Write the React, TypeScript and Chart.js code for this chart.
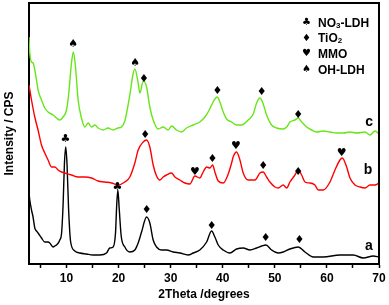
import React, { useEffect, useRef } from 'react';
import { Chart, registerables } from 'chart.js';

Chart.register(...registerables);

// Curve a (black)
const curveA_2theta = [2.8,2.95,3.28,3.58,3.91,4.24,4.54,5.2,5.83,6.46,6.79,7.43,7.75,8.08,8.42,8.71,9.04,9.35,9.6,9.85,10.1,10.4,10.8,11.6,12.56,13.84,15.05,16.4,17.68,18.32,18.95,19.41,19.65,19.86,20.1,20.5,21.2,22.16,23.12,23.76,24.41,25.37,26.0,26.64,27.29,28.25,29.21,30.48,31.77,33.36,34.32,35.6,36.9,37.86,38.49,39.13,40.09,41.37,42.66,43.93,45.22,46.5,47.46,48.29,49.38,50.65,51.61,52.9,54.5,55.78,57.38,59.3,62.5,65.06,66.98,68.9,70.0];
const curveA_cps = [71,64,54,47,36,33,31,26,22,22,21,17,18,19,21,24,30,60,100,117,100,55,22,13,11,10,9,9,11,16,17,31,60,74,57,28,17,12,14,21,32,47,41,24,17,14,14,12,11,9,11,14,22,33,27,19,14,11,15,16,14,16,18,19,14,11,12,15,17,12,7,7,9,9,6,8,7];

// Curve b (red)
const curveB_2theta = [2.8,3.28,3.91,4.54,5.2,5.83,6.46,7.12,7.75,8.39,9.04,9.67,10.96,12.23,13.52,14.8,16.07,17.36,18.65,19.91,21.2,22.16,23.12,23.76,24.72,25.37,26.0,26.64,27.29,27.92,28.56,29.21,30.17,30.81,31.77,32.73,33.69,34.65,35.6,36.24,36.9,37.53,38.05,38.49,39.13,40.09,41.05,41.7,42.0,42.66,43.3,43.93,44.89,46.18,47.14,47.77,48.42,49.06,50.02,50.65,51.61,52.27,52.9,53.86,54.5,55.15,55.78,56.74,57.7,58.34,59.3,60.59,61.55,62.5,62.95,63.79,64.43,65.39,66.35,67.31,68.27,69.23,70.0];
const curveB_cps = [179,164,147,134,119,111,104,97,97,94,92,91,89,87,87,86,83,82,81,79,82,87,101,114,122,124,117,99,88,84,87,89,91,87,84,81,80,88,86,92,97,96,99,92,83,81,90,101,107,112,104,91,84,84,91,92,87,82,77,76,79,76,82,89,94,89,82,81,79,74,74,82,94,104,106,97,86,79,77,76,79,79,81];

// Curve c (green)
const curveC_2theta = [2.8,2.95,3.28,3.58,4.24,4.54,5.2,5.83,6.46,7.43,8.08,8.71,9.35,10.0,10.44,10.96,11.31,11.73,12.23,12.88,13.52,14.15,14.8,15.44,16.07,17.03,17.99,18.95,19.91,20.57,21.2,22.16,22.74,23.12,23.76,24.08,24.75,25.37,26.0,26.64,27.6,28.56,29.52,30.17,31.13,32.09,33.05,34.32,35.6,36.57,37.2,37.86,38.49,38.93,39.45,40.09,40.74,41.7,42.66,43.62,44.89,45.85,46.5,47.14,47.77,48.42,49.38,50.34,51.61,52.27,52.9,53.86,54.5,55.15,56.11,57.07,58.03,59.3,60.59,61.87,63.14,64.43,65.72,67.31,68.27,69.23,70.0];
const curveC_cps = [227,211,202,201,184,174,164,156,152,149,146,144,147,154,171,201,212,197,164,146,137,141,137,139,136,134,136,134,136,137,143,169,189,195,181,171,183,177,157,144,135,137,134,138,134,132,136,139,142,147,152,159,165,167,162,152,145,142,139,139,144,150,161,166,160,149,139,136,135,137,142,144,146,142,137,134,132,133,132,131,131,132,131,132,129,133,130];

// Peak markers (2theta, intensity, phase symbol)
const markerX = [11.3,23.2,24.85,38.97,47.46,54.5, 25.1,34.65,38.0,42.53,47.77,54.5,62.83, 9.8,19.8,25.4,37.86,48.23,54.7];
const markerY = [220,201,185,173,172,149, 129,92,105,118,98,92,111, 125,77,54,38,26,24];
const markerSymbol = ['\u2660','\u2660','\u2666','\u2666','\u2666','\u2666', '\u2666','\u2665','\u2666','\u2665','\u2666','\u2666','\u2665', '\u2663','\u2663','\u2666','\u2666','\u2666','\u2666'];

// Phase legend
const legendSymbols = ['\u2663', '\u2666', '\u2665', '\u2660'];
const legendMain = ['NO', 'TiO', 'MMO', 'OH-LDH'];
const legendSub = ['3', '2', '', ''];
const legendTail = ['-LDH', '', '', ''];

// Curve letters
const curveLetters = ['a', 'b', 'c'];
const curveLetterX = [68.08, 67.9, 68.1];
const curveLetterY = [14, 89.7, 138];

const xTicks = [5, 10, 15, 20, 25, 30, 35, 40, 45, 50, 55, 60, 65, 70];

const FONT = '"Liberation Sans", Arial, sans-serif';

const pts = (xs: number[], ys: number[]) => xs.map((x, i) => ({ x, y: ys[i] }));

const annotatePlugin = {
  id: 'annotate',
  afterDatasetsDraw(chart: any) {
    const { ctx, chartArea: ca, scales } = chart;
    const xs = scales.x;
    const ys = scales.y;
    ctx.save();
    // top and right frame
    ctx.strokeStyle = '#000';
    ctx.lineWidth = 2;
    ctx.beginPath();
    ctx.moveTo(ca.left, ca.top);
    ctx.lineTo(ca.right, ca.top);
    ctx.lineTo(ca.right, ca.bottom);
    ctx.stroke();

    // peak markers
    ctx.fillStyle = '#000';
    ctx.font = 'bold 11px "DejaVu Sans"';
    ctx.textAlign = 'center';
    ctx.textBaseline = 'middle';
    markerX.forEach((mx, i) => {
      ctx.fillText(markerSymbol[i], xs.getPixelForValue(mx), ys.getPixelForValue(markerY[i]));
    });

    // curve letters
    ctx.font = `bold 14px ${FONT}`;
    ctx.textBaseline = 'alphabetic';
    curveLetters.forEach((t, i) => {
      ctx.fillText(t, xs.getPixelForValue(curveLetterX[i]), ys.getPixelForValue(curveLetterY[i]));
    });

    // legend
    const symX = ca.right - 72.5;
    const txtX = ca.right - 61;
    legendSymbols.forEach((s, i) => {
      const cy = ca.top + 19.5 + i * 15.6;
      ctx.font = 'bold 10px "DejaVu Sans"';
      ctx.textAlign = 'center';
      ctx.textBaseline = 'middle';
      ctx.fillText(s, symX, cy);
      ctx.textAlign = 'left';
      ctx.textBaseline = 'alphabetic';
      const base = cy + 4.3;
      ctx.font = `bold 12px ${FONT}`;
      let x = txtX;
      ctx.fillText(legendMain[i], x, base);
      x += ctx.measureText(legendMain[i]).width;
      if (legendSub[i]) {
        ctx.font = `bold 8px ${FONT}`;
        ctx.fillText(legendSub[i], x, base + 1);
        x += ctx.measureText(legendSub[i]).width;
      }
      if (legendTail[i]) {
        ctx.font = `bold 12px ${FONT}`;
        ctx.fillText(legendTail[i], x, base);
      }
    });
    ctx.restore();
  },
};

export default function App() {
  const ref = useRef<HTMLCanvasElement | null>(null);
  useEffect(() => {
    if (!ref.current) return;
    const chart = new Chart(ref.current, {
      type: 'line',
      data: {
        datasets: [
          { data: pts(curveC_2theta, curveC_cps), borderColor: '#66e619' },
          { data: pts(curveB_2theta, curveB_cps), borderColor: '#ff0000' },
          { data: pts(curveA_2theta, curveA_cps), borderColor: '#000000' },
        ],
      },
      options: {
        animation: false,
        responsive: false,
        layout: { padding: { top: 3, right: 10, left: 0, bottom: 0 } },
        plugins: { legend: { display: false }, tooltip: { enabled: false } },
        elements: {
          point: { radius: 0 },
          line: { borderWidth: 1.4, cubicInterpolationMode: 'monotone', fill: false },
        },
        scales: {
          x: {
            type: 'linear',
            min: 2.8,
            max: 70,
            afterFit: (s: any) => { s.height = 41; },
            afterBuildTicks: (s: any) => { s.ticks = xTicks.map((v) => ({ value: v })); },
            ticks: {
              autoSkip: false,
              maxRotation: 0,
              padding: 3,
              color: '#000',
              font: { family: FONT, weight: 'bold', size: 12 },
              callback: (v: any) => (Number(v) % 10 === 0 ? String(v) : ''),
            },
            grid: { display: true, drawOnChartArea: false, drawTicks: true, tickLength: 4, tickWidth: 1.5, tickColor: '#000' },
            border: { display: true, color: '#000', width: 2 },
            title: {
              display: true,
              text: '2Theta /degrees',
              color: '#000',
              font: { family: FONT, weight: 'bold', size: 12 },
              padding: { top: 0, bottom: 3 },
            },
          },
          y: {
            min: 0,
            max: 261,
            afterFit: (s: any) => { s.width = 29; },
            ticks: { display: false },
            grid: { display: false },
            border: { display: true, color: '#000', width: 2 },
            title: {
              display: true,
              text: 'Intensity / CPS',
              color: '#000',
              font: { family: FONT, weight: 'bold', size: 12 },
              padding: { top: 2, bottom: 0 },
            },
          },
        },
      } as any,
      plugins: [annotatePlugin],
    });
    return () => chart.destroy();
  }, []);
  return (
    <div style={{ position: 'absolute', left: 0, top: 0, width: 389, height: 305, background: '#fff' }}>
      <canvas ref={ref} width={389} height={305} style={{ display: 'block' }} />
    </div>
  );
}
